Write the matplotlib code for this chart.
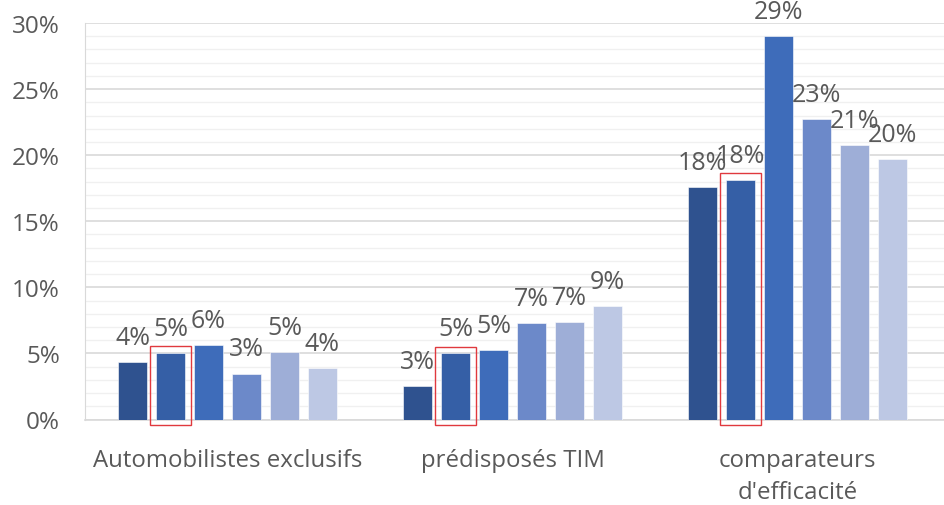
import numpy as np
import matplotlib
matplotlib.use("Agg")
import matplotlib.pyplot as plt
from matplotlib.patches import Rectangle
from matplotlib.ticker import MultipleLocator, FuncFormatter

# shares per segment, one list per series (6 series, in %)
categories = ["Automobilistes exclusifs", "prédisposés TIM", "comparateurs\nd'efficacité"]
serie_1 = [4.38, 2.56, 17.62]
serie_2 = [5.04, 5.00, 18.15]
serie_3 = [5.64, 5.28, 29.00]
serie_4 = [3.48, 7.30, 22.70]
serie_5 = [5.12, 7.35, 20.74]
serie_6 = [3.88, 8.59, 19.72]
series = [serie_1, serie_2, serie_3, serie_4, serie_5, serie_6]

colors = ["#2F528F", "#355FA6", "#3E6CBA", "#6C89C9", "#9EAED7", "#BDC8E4"]
highlight = 1  # index of the series boxed in red

plt.rcParams["font.family"] = ["Open Sans", "DejaVu Sans"]
TXT = "#595959"

fig = plt.figure(figsize=(9.45, 5.06), dpi=100)
# axes run past the right edge: a 4th group is cut off
ax = fig.add_axes([85 / 945, 85.5 / 506, 4 * 285 / 945, 396.5 / 506])

x = np.arange(len(categories))
step = 0.1333
width = 0.105
for i, vals in enumerate(series):
    pos = x + (i - 2.5) * step
    bars = ax.bar(pos, vals, width=width, color=colors[i], edgecolor="#FFFFFF",
                  linewidth=0.4, zorder=3)
    for b, v in zip(bars, vals):
        ax.annotate(f"{v:.0f}%", (b.get_x() + b.get_width() / 2, v),
                    xytext=(0, 13), textcoords="offset points",
                    ha="center", va="baseline", fontsize=18, color=TXT,
                    annotation_clip=False, zorder=4)
    if i == highlight:
        for p, v in zip(pos, vals):
            ax.add_patch(Rectangle((p - width / 2 - 0.02, -0.38), width + 0.04, v + 0.38 + 0.52,
                                   fill=False, edgecolor="#E0393E", linewidth=1.0,
                                   clip_on=False, zorder=5))

ax.set_xlim(-0.5, 3.5)
ax.set_ylim(0, 30)
ax.yaxis.set_major_locator(MultipleLocator(5))
ax.yaxis.set_minor_locator(MultipleLocator(1))
ax.yaxis.set_major_formatter(FuncFormatter(lambda v, _: f"{v:.0f}%"))
ax.grid(axis="y", which="major", color="#D9D9D9", linewidth=1.2, zorder=0)
ax.grid(axis="y", which="minor", color="#F0F0F0", linewidth=1.0, zorder=0)
ax.set_axisbelow(True)

ax.set_xticks(x)
ax.set_xticklabels(categories, fontsize=17.3, color=TXT, linespacing=1.45)
ax.tick_params(axis="x", length=0, pad=20.5)
ax.tick_params(axis="y", which="both", length=0, pad=18, labelsize=17.5, labelcolor=TXT)

for s in ["top", "right"]:
    ax.spines[s].set_visible(False)
ax.spines["left"].set_color("#D9D9D9")
ax.spines["bottom"].set_color("#D9D9D9")
ax.spines["bottom"].set_linewidth(1.2)

fig.savefig("out.png", dpi=100)
